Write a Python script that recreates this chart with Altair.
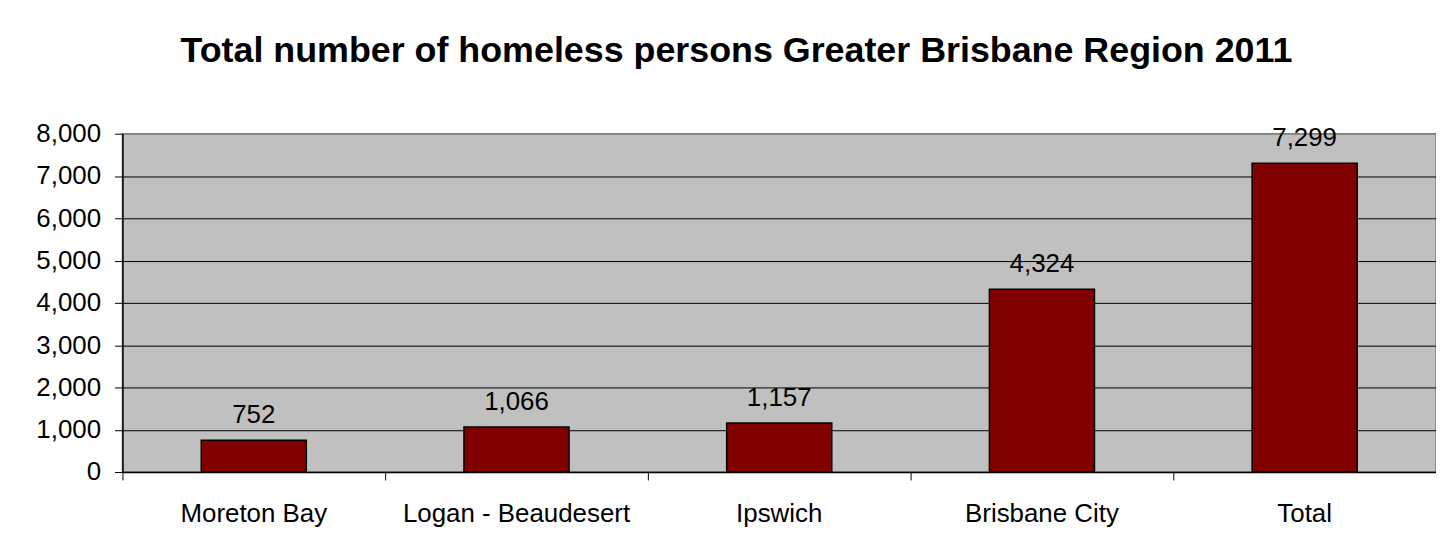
import altair as alt
import pandas as pd

regions = ["Moreton Bay", "Logan - Beaudesert", "Ipswich", "Brisbane City", "Total"]
persons = [752, 1066, 1157, 4324, 7299]
y_ticks = [0, 1000, 2000, 3000, 4000, 5000, 6000, 7000, 8000]

df = pd.DataFrame({"region": regions, "persons": persons})

FONT = "Liberation Sans"
FS = 26

x_enc = alt.X(
    "region:N",
    sort=regions,
    scale=alt.Scale(paddingInner=0, paddingOuter=0),
    axis=alt.Axis(
        title=None, labelAngle=0, bandPosition=0, labelFontSize=FS, labelFont=FONT,
        labelColor="black", tickColor="black", tickSize=8, domainColor="black",
        domainWidth=1.5, labelPadding=21, labelLimit=0,
    ),
)
y_enc = alt.Y(
    "persons:Q",
    scale=alt.Scale(domain=[0, 8000], nice=False),
    axis=alt.Axis(
        title=None, values=y_ticks, format=",.0f", labelFontSize=FS, labelFont=FONT,
        labelColor="black", tickColor="black", tickSize=8, domainColor="black",
        domainWidth=1.5, labelPadding=14,
        gridColor=alt.condition("datum.value == 8000", alt.value("#808080"), alt.value("black")),
        gridWidth=1,
    ),
)

bars = alt.Chart(df).mark_bar(
    width={"band": 0.4}, color="#800000", stroke="black", strokeWidth=1.5
).encode(x=x_enc, y=y_enc)

labels = alt.Chart(df).mark_text(
    baseline="bottom", dy=-12, fontSize=FS, font=FONT, color="black"
).encode(
    x=alt.X("region:N", sort=regions),
    y=alt.Y("persons:Q"),
    text=alt.Text("persons:Q", format=",.0f"),
)

chart = (
    alt.layer(bars, labels)
    .properties(
        width=1320,
        height=340,
        padding={"left": 27, "top": 24, "right": 0, "bottom": 10},
        title=alt.TitleParams(
            "Total number of homeless persons Greater Brisbane Region 2011",
            fontSize=36, font=FONT, fontWeight="bold", color="black",
            offset=51, dx=-43,
        ),
        background="white",
    )
    .configure_view(fill="#C0C0C0", stroke="#808080", strokeWidth=1.5)
)

chart.save("out.html", embed_options={"renderer": "svg", "actions": False})
